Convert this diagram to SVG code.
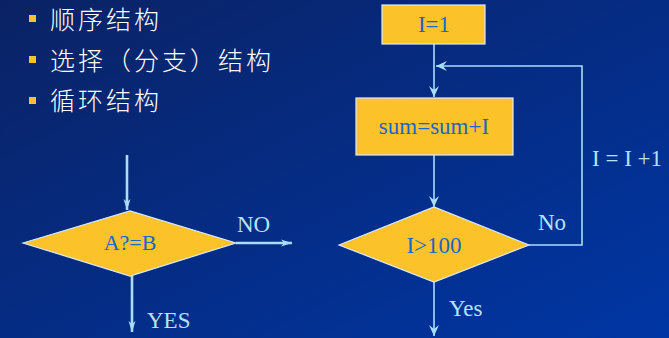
<svg xmlns="http://www.w3.org/2000/svg" width="669" height="338" viewBox="0 0 669 338">
<defs>
<linearGradient id="bg" x1="0" y1="0" x2="1" y2="1">
<stop offset="0" stop-color="#0a2264"/>
<stop offset="1" stop-color="#0036a4"/>
</linearGradient>
<marker id="ah" markerUnits="userSpaceOnUse" markerWidth="12" markerHeight="10" refX="11" refY="5" orient="auto">
<path d="M0,1.5 L11,5 L0,8.5 L3,5 Z" fill="#a9ddf6"/>
</marker>
<marker id="ah2" markerUnits="userSpaceOnUse" markerWidth="12" markerHeight="12" refX="11" refY="6" orient="auto">
<path d="M0,1 L11,6 L0,11 L4,6 Z" fill="#a9ddf6"/>
</marker>
</defs>
<style>
.cjk{font-family:"Noto Sans CJK SC","Noto Sans",sans-serif;font-size:25px;font-weight:300;fill:#ffffff;letter-spacing:3px}
.bul{fill:#fcc22a}
.node{fill:#fcc22a;stroke:#d8ecff;stroke-width:1.2}
.nt{font-family:"Liberation Serif",serif;font-size:23px;fill:#1766c8;text-anchor:middle}
.lbl{font-family:"Liberation Serif",serif;font-size:23px;fill:#b4e2f8}
.thick{stroke:#a9ddf6;stroke-width:2.6;fill:none}
.thin{stroke:#a9ddf6;stroke-width:1.6;fill:none}
</style>
<rect width="669" height="338" fill="url(#bg)"/>
<g id="bullets">
<rect class="bul" x="29" y="15" width="7" height="7"/>
<text class="cjk" x="50" y="29">顺序结构</text>
<rect class="bul" x="29" y="56" width="7" height="7"/>
<text class="cjk" x="50" y="70">选择（分支）结构</text>
<rect class="bul" x="29" y="97" width="7" height="7"/>
<text class="cjk" x="50" y="110">循环结构</text>
</g>
<g id="connectors">
<line class="thick" x1="127" y1="155" x2="127" y2="210" marker-end="url(#ah)"/>
<line class="thick" x1="236" y1="243" x2="292" y2="243" marker-end="url(#ah)"/>
<line class="thick" x1="132" y1="276" x2="132" y2="332" marker-end="url(#ah)"/>
<line class="thin" x1="434" y1="44" x2="434" y2="97" marker-end="url(#ah2)"/>
<line class="thin" x1="434" y1="155" x2="434" y2="207" marker-end="url(#ah2)"/>
<line class="thin" x1="434" y1="282" x2="434" y2="336" marker-end="url(#ah2)"/>
<polyline class="thin" points="529,245 582,245 582,66 436,66" marker-end="url(#ah2)"/>
<text class="lbl" x="237" y="232">NO</text>
<text class="lbl" x="147" y="328">YES</text>
<text class="lbl" x="592" y="166">I = I +1</text>
<text class="lbl" x="538" y="230">No</text>
<text class="lbl" x="449" y="316">Yes</text>
</g>
<g id="decision1">
<polygon class="node" points="23,243 130,211 236,243 130,276"/>
<text class="nt" x="130" y="250" style="font-size:22px">A?=B</text>
</g>
<g id="init">
<rect class="node" x="382" y="5" width="103" height="39"/>
<text class="nt" x="434" y="32">I=1</text>
</g>
<g id="sum">
<rect class="node" x="356" y="98" width="157" height="57"/>
<text class="nt" x="434" y="134">sum=sum+I</text>
</g>
<g id="decision2">
<polygon class="node" points="339,245 434,207 529,245 434,282"/>
<text class="nt" x="434" y="253">I&gt;100</text>
</g>
</svg>
